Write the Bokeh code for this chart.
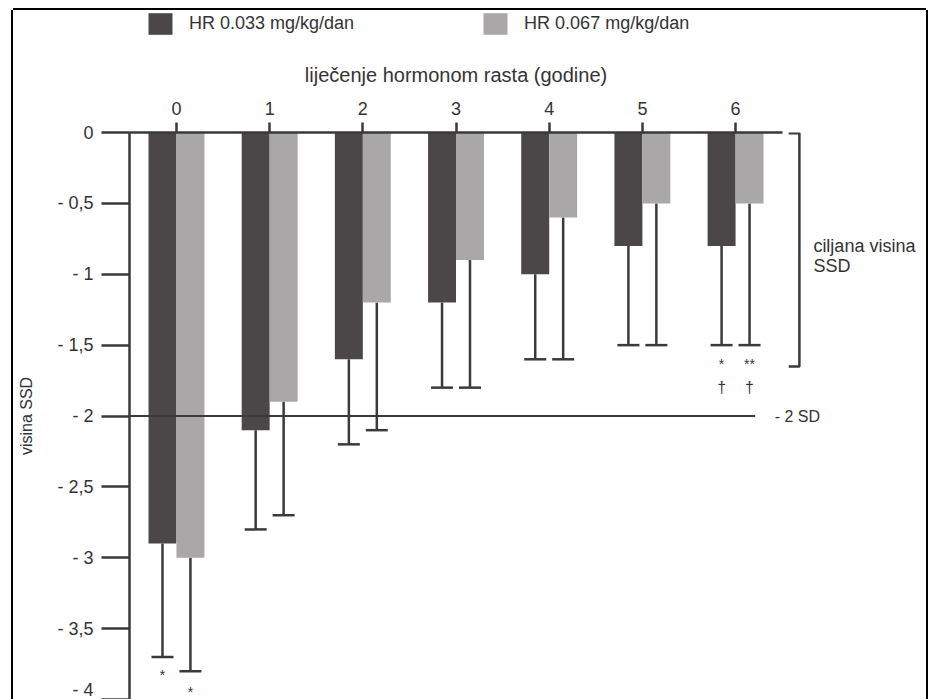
from bokeh.plotting import figure
from bokeh.layouts import column
from bokeh.models import (Range1d, FixedTicker, Legend, LegendItem, Whisker,
                          TeeHead, ColumnDataSource)
from bokeh.core.properties import value
from bokeh.embed import file_html
from bokeh.resources import INLINE

# ---------------- data ----------------
years = [0, 1, 2, 3, 4, 5, 6]
year_labels = ["0", "1", "2", "3", "4", "5", "6"]
hr_033 = [-2.9, -2.1, -1.6, -1.2, -1.0, -0.8, -0.8]
hr_033_sd = [0.8, 0.7, 0.6, 0.6, 0.6, 0.7, 0.7]
hr_067 = [-3.0, -1.9, -1.2, -0.9, -0.6, -0.5, -0.5]
hr_067_sd = [0.8, 0.8, 0.9, 0.9, 1.0, 1.0, 1.0]
sig_033 = ["*", "", "", "", "", "", "*"]
sig_067 = ["*", "", "", "", "", "", "**"]
dag_033 = ["", "", "", "", "", "", "\u2020"]
dag_067 = ["", "", "", "", "", "", "\u2020"]
y_ticks = [0, -0.5, -1, -1.5, -2, -2.5, -3, -3.5, -4]
y_tick_labels = ["0", "- 0,5", "- 1", "- 1,5", "- 2", "- 2,5", "- 3", "- 3,5", "- 4"]
legend_labels = ["HR 0.033 mg/kg/dan", "HR 0.067 mg/kg/dan"]
x_title = "lije\u010denje hormonom rasta (godine)"
y_title = "visina SSD"
ref_value = -2
ref_label = "- 2 SD"
target_top = 0
target_bottom = -1.65
target_labels = ["ciljana visina", "SSD"]

# ---------------- style ----------------
DARK = "#4b4647"
LIGHT = "#a9a7a8"
LINE = "#3a3a3a"
TEXT = "#333333"
FONT = "Liberation Sans"
BAR_W = 0.3
DODGE = 0.15

W = 913
H_TOP = 86
H_MAIN = 603
x_start, x_end = -0.504, 8.049

# ---------------- main chart ----------------
p = figure(width=W, height=H_MAIN, output_backend="svg", toolbar_location=None,
           x_range=Range1d(x_start, x_end), y_range=Range1d(-4.0, 0),
           x_axis_location="above", title=None,
           min_border_left=116, min_border_right=0, min_border_top=36,
           min_border_bottom=0)
p.grid.visible = False
p.outline_line_color = None
p.background_fill_color = "white"
p.border_fill_color = "white"

x033 = [x - DODGE for x in years]
x067 = [x + DODGE for x in years]
low033 = [v - s for v, s in zip(hr_033, hr_033_sd)]
low067 = [v - s for v, s in zip(hr_067, hr_067_sd)]
src = ColumnDataSource(dict(x033=x033, x067=x067, v033=hr_033, v067=hr_067,
                            low033=low033, low067=low067))

p.vbar(x="x033", width=BAR_W, top=0, bottom="v033", source=src,
       fill_color=DARK, line_color=None)
p.vbar(x="x067", width=BAR_W, top=0, bottom="v067", source=src,
       fill_color=LIGHT, line_color=None)

for base, up, low in (("x033", "v033", "low033"), ("x067", "v067", "low067")):
    p.add_layout(Whisker(source=src, base=base, upper=up, lower=low,
                         dimension="height", upper_head=None,
                         lower_head=TeeHead(size=22, line_width=2.5, line_color=LINE),
                         line_width=2.5, line_color=LINE))

# reference line at -2 SD
ref_end = years[-1] + 0.21
p.segment(x0=[x_start], x1=[ref_end], y0=[ref_value], y1=[ref_value],
          line_width=2.2, line_color=LINE)
p.text(x=[ref_end + 0.21], y=[ref_value], text=[ref_label], text_baseline="middle",
       text_align="left", text_font=value(FONT), text_font_size="16px",
       text_color=TEXT)

# target-height bracket
bx = years[-1] + 0.685
p.line(x=[bx - 0.115, bx, bx, bx - 0.115],
       y=[target_top - 0.006, target_top - 0.006, target_bottom, target_bottom],
       line_width=2.5, line_color=LINE)
p.text(x=[bx + 0.15, bx + 0.15], y=[-0.80, -0.94], text=target_labels,
       text_baseline="middle", text_align="left", text_font=value(FONT),
       text_font_size="18px", text_color=TEXT)

# significance markers
star_src = ColumnDataSource(dict(
    x=x033 + x067,
    y=[l - 0.13 for l in low033] + [l - (0.15 if i == 0 else 0.13)
                                    for i, l in enumerate(low067)],
    t=sig_033 + sig_067,
    yd=[l - 0.30 for l in low033] + [l - 0.30 for l in low067],
    d=dag_033 + dag_067,
))
p.text(x="x", y="y", text="t", source=star_src, text_align="center",
       text_baseline="middle", text_font=value(FONT), text_font_size="14px",
       text_color=TEXT)
p.text(x="x", y="yd", text="d", source=star_src, text_align="center",
       text_baseline="middle", text_font=value(FONT), text_font_size="16px",
       text_color=TEXT)

# y axis
yax = p.yaxis[0]
yax.ticker = FixedTicker(ticks=y_ticks)
yax.major_label_overrides = {float(k): v for k, v in zip(y_ticks, y_tick_labels)}
yax.axis_line_width = 2.5
yax.axis_line_color = LINE
yax.major_tick_line_width = 2.5
yax.major_tick_line_color = LINE
yax.major_tick_out = 28
yax.major_tick_in = 0
yax.minor_tick_line_color = None
yax.major_label_standoff = 8
yax.major_label_text_font = FONT
yax.major_label_text_font_size = "18px"
yax.major_label_text_color = TEXT
yax.axis_label = y_title
yax.axis_label_text_font = FONT
yax.axis_label_text_font_size = "16px"
yax.axis_label_text_font_style = "normal"
yax.axis_label_text_color = TEXT
yax.axis_label_standoff = 19

# x axis (top)
xax = p.xaxis[0]
xax.ticker = FixedTicker(ticks=years)
xax.major_label_overrides = {float(k): v for k, v in zip(years, year_labels)}
xax.bounds = (x_start, years[-1] + 0.5)
xax.axis_line_width = 2.5
xax.axis_line_color = LINE
xax.major_tick_line_width = 2.5
xax.major_tick_line_color = LINE
xax.major_tick_out = 10
xax.major_tick_in = 0
xax.minor_tick_line_color = None
xax.major_label_standoff = 8
xax.major_label_text_font = FONT
xax.major_label_text_font_size = "18px"
xax.major_label_text_color = TEXT

# ---------------- header (legend + axis title) ----------------
top = figure(width=W, height=H_TOP, output_backend="svg", toolbar_location=None,
             x_range=p.x_range, y_range=Range1d(0, H_TOP),
             x_axis_location=None, y_axis_location=None, title=None,
             min_border_left=116, min_border_right=0, min_border_top=0,
             min_border_bottom=0)
top.grid.visible = False
top.outline_line_color = None
top.background_fill_color = "white"
top.border_fill_color = "white"

# same series (hanging below this header's visible range) -> legend swatches
l1 = top.vbar(x="x033", width=BAR_W, top=0, bottom="v033", source=src,
              fill_color=DARK, line_color=None)
l2 = top.vbar(x="x067", width=BAR_W, top=0, bottom="v067", source=src,
              fill_color=LIGHT, line_color=None)
legend = Legend(items=[LegendItem(label=legend_labels[0], renderers=[l1]),
                       LegendItem(label=legend_labels[1], renderers=[l2])],
                orientation="horizontal", location=(16, 59),
                glyph_width=30, glyph_height=27, label_standoff=14, spacing=126,
                padding=0, margin=0, border_line_color=None,
                background_fill_alpha=0, label_text_font=FONT,
                label_text_font_size="18px", label_text_color=TEXT)
top.add_layout(legend)

top.text(x=[(years[0] + years[-1]) / 2], y=[22], text=[x_title],
         text_align="center", text_baseline="alphabetic", text_font=value(FONT),
         text_font_size="20px", text_color=TEXT)

layout = column(top, p, margin=(10, 0, 0, 13),
                styles={"box-shadow": "-2px 0 0 0 #000, 2px 0 0 0 #000, 0 -2px 0 0 #000"})

open("out.html", "w").write(file_html(layout, INLINE))
